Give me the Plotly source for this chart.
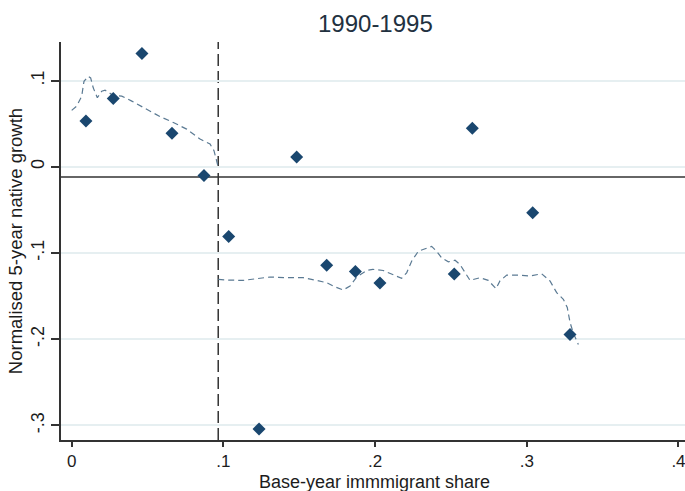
import plotly.graph_objects as go

# ---- data ----
share = [0.0094, 0.0274, 0.0463, 0.0661, 0.0872, 0.1035, 0.1235, 0.1483, 0.1681,
         0.1870, 0.2032, 0.2522, 0.2641, 0.3039, 0.3285]
growth = [0.053, 0.0793, 0.1314, 0.039, -0.010, -0.0808, -0.3042, 0.0115, -0.1141,
          -0.1215, -0.1349, -0.1245, 0.0448, -0.0532, -0.1946]

left_x = [0.000, 0.0033, 0.0066, 0.0081, 0.0109, 0.0125, 0.0142, 0.0169, 0.0198, 0.022,
          0.0274, 0.033, 0.0396, 0.0494, 0.0582, 0.067, 0.0758, 0.0846, 0.0912, 0.0938,
          0.0951, 0.0966]
left_y = [0.0655, 0.0705, 0.082, 0.0992, 0.105, 0.1031, 0.0916, 0.0801, 0.0877, 0.0889,
          0.0828, 0.082, 0.0762, 0.0667, 0.0583, 0.0514, 0.0437, 0.0322, 0.0264, 0.0187,
          0.0092, -0.0003]

right_x = [0.0966, 0.1011, 0.1131, 0.122, 0.1307, 0.1417, 0.1527, 0.1615, 0.1681, 0.1736,
           0.179, 0.1835, 0.1879, 0.1945, 0.1985, 0.2054, 0.212, 0.2175, 0.2208, 0.2241,
           0.2285, 0.2329, 0.2373, 0.2406, 0.2439, 0.2483, 0.2527, 0.256, 0.2593, 0.2626,
           0.2692, 0.2746, 0.2797, 0.2823, 0.2868, 0.2933, 0.3021, 0.3098, 0.3153, 0.3197,
           0.3241, 0.3267, 0.3285, 0.3307, 0.334]
right_y = [-0.1307, -0.1314, -0.1318, -0.1295, -0.1279, -0.1287, -0.1287, -0.1318, -0.1345,
           -0.1394, -0.1429, -0.1383, -0.1279, -0.1203, -0.119, -0.1203, -0.1249, -0.1295,
           -0.123, -0.1095, -0.098, -0.0951, -0.0923, -0.098, -0.1057, -0.1103, -0.1084,
           -0.1134, -0.123, -0.1318, -0.1287, -0.1318, -0.1414, -0.1325, -0.1256, -0.1256,
           -0.1268, -0.1241, -0.1325, -0.146, -0.1537, -0.1632, -0.1805, -0.1931, -0.2061]

threshold = 0.0966
mean_line = -0.0118

x_ticks = [0, 0.1, 0.2, 0.3, 0.4]
x_labels = ["0", ".1", ".2", ".3", ".4"]
y_ticks = [0.1, 0, -0.1, -0.2, -0.3]
y_labels = [".1", "0", "-.1", "-.2", "-.3"]

FONT = "Liberation Sans, Arial, sans-serif"
smooth_color = "#5b7a93"
marker_color = "#1a476f"

fig = go.Figure()
fig.add_trace(go.Scatter(x=left_x, y=left_y, mode="lines",
                         line=dict(color=smooth_color, width=1.2, dash="6px,4px"),
                         hoverinfo="skip"))
fig.add_trace(go.Scatter(x=right_x, y=right_y, mode="lines",
                         line=dict(color=smooth_color, width=1.2, dash="6px,4px"),
                         hoverinfo="skip"))
fig.add_trace(go.Scatter(x=share, y=growth, mode="markers",
                         marker=dict(symbol="diamond", size=10, color=marker_color,
                                     line=dict(width=0))))

fig.add_shape(type="line", xref="paper", yref="y", x0=0, x1=1, y0=mean_line, y1=mean_line,
              line=dict(color="#333333", width=1.5), layer="below")
fig.add_shape(type="line", xref="x", yref="paper", x0=threshold, x1=threshold, y0=0, y1=1,
              line=dict(color="#333333", width=1.5, dash="12px,5px"), layer="below")

# plot area spans y 42..440 px (398 px tall); x-title centred at ~482 px
fig.add_annotation(text="Base-year immmigrant share", xref="paper", yref="paper",
                   x=0.503, y=-0.1055, xanchor="center", yanchor="middle", showarrow=False,
                   font=dict(family=FONT, size=18, color="#1c1c1c"))

fig.update_layout(
    width=685, height=491,
    margin=dict(l=61, r=0, t=42, b=51, autoexpand=False),
    paper_bgcolor="white", plot_bgcolor="white",
    showlegend=False,
    font=dict(family=FONT, color="#1c1c1c", size=19),
    title=dict(text="1990-1995", x=0.548, xanchor="center", y=0.951, yanchor="middle",
               font=dict(family=FONT, size=24, color="#22313f")),
)
fig.update_xaxes(range=[-0.00705, 0.4043], tickvals=x_ticks, ticktext=x_labels,
                 automargin=False,
                 showgrid=False, zeroline=False, showline=True, linecolor="#333333",
                 linewidth=2, ticks="outside", ticklen=5, tickwidth=1.5, tickcolor="#333333",
                 tickfont=dict(size=17), ticklabeloverflow="allow")
fig.update_yaxes(range=[-0.317, 0.1448], tickvals=y_ticks, ticktext=y_labels,
                 automargin=False,
                 showgrid=True, gridcolor="#e6eff1", gridwidth=1.5, zeroline=False,
                 showline=True, linecolor="#333333", linewidth=2, ticks="outside",
                 ticklen=8, tickwidth=1.5, tickcolor="#333333", tickangle=-90,
                 tickfont=dict(size=18),
                 title=dict(text="Normalised 5-year native growth", font=dict(size=18.5), standoff=0))

fig.write_html("out.html")
